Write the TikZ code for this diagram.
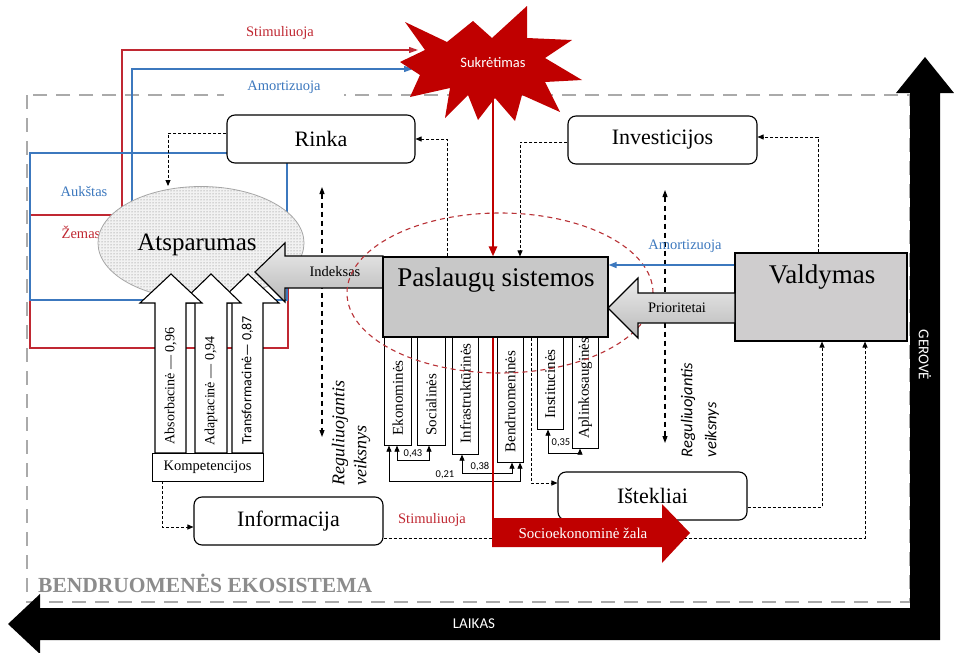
\documentclass[tikz,border=0pt]{standalone}
\usepackage{fontspec}
\setmainfont{Liberation Serif}
\newfontfamily\calib{Carlito}
\usetikzlibrary{arrows.meta,patterns,shapes.geometric}
\definecolor{rline}{RGB}{192,40,50}
\definecolor{bline}{RGB}{60,120,190}
\definecolor{shockred}{RGB}{192,0,0}
\definecolor{dashgray}{RGB}{170,170,170}
\definecolor{boxgray}{RGB}{200,200,200}
\definecolor{valgray}{RGB}{207,205,206}
\definecolor{ecogray}{RGB}{140,140,140}
\definecolor{ellred}{RGB}{185,50,55}
\newcommand\fsz[2]{\fontsize{#1}{#2}\selectfont}
\begin{document}
\begin{tikzpicture}[x=1pt,y=-1pt,
  rbox/.style={draw, line width=1.1pt, rounded corners=8pt, fill=white, inner sep=0pt, font=\fsz{22}{26}},
  gbox/.style={draw, line width=1.1pt, inner sep=0pt},
  vbox/.style={draw, line width=0.6pt, fill=white, inner sep=0pt, anchor=north west},
  vtext/.style={rotate=90, anchor=west, inner sep=0pt, font=\fsz{15}{17}},
  da/.style={dash pattern=on 3pt off 2pt, line width=0.9pt, -{Triangle[length=6pt,width=5pt]}},
  dda/.style={dash pattern=on 5pt off 4pt, line width=1.1pt, {Triangle[length=7pt,width=5pt]}-{Triangle[length=7pt,width=5pt]}},
  numline/.style={line width=0.7pt, {Triangle[length=6pt,width=5pt]}-{Triangle[length=6pt,width=5pt]}},
  numlab/.style={font=\calib\fsz{10.5}{12}, inner sep=0pt},
  lbl/.style={inner sep=0pt, font=\fsz{14.5}{17}},
  redthin/.style={draw=rline, line width=1.2pt},
  bluethin/.style={draw=bline, line width=1.2pt},
  whitearrow/.style={draw, line width=1.1pt, fill=white, line join=miter},
  grayarrow/.style={draw, line width=1.1pt, top color=gray!15, bottom color=gray!55},
  sidetxt/.style={text=white, font=\calib\fsz{15}{17}, inner sep=0pt},
]
\useasboundingbox (0,0) rectangle (954,653);
\fill[white] (0,0) rectangle (954,653);

% ecosystem frame
\draw[dashgray, line width=2pt, dash pattern=on 14pt off 9pt] (27,95) rectangle (910,602);
\node[anchor=base west, text=ecogray, font=\bfseries\fsz{21.5}{24}, inner sep=0pt] (ecosys) at (38,592) {BENDRUOMENĖS EKOSISTEMA};

% shock star coordinates
\coordinate (shockL1) at (418,50);
\coordinate (shockL2) at (413,69);

% red and blue loops
\draw[redthin] (288,288) |- (30,348) |- (122,215);
\draw[redthin, -{Triangle[length=9pt,width=6pt]}] (122,215) |- (shockL1);
\draw[bluethin] (30,153) rectangle (287,300);
\draw[bluethin, -{Triangle[length=9pt,width=6pt]}] (132,230) |- (shockL2);
\node[lbl, text=rline] (stim1) at (280,33) {Stimuliuoja};
\node[lbl, text=bline, fill=white, minimum width=120pt, minimum height=18pt] (amort1) at (284,87) {Amortizuoja};
\node[lbl, text=bline] (auk) at (84,192) {Aukštas};
\node[lbl, text=rline] (zem) at (81,232) {Žemas};

% resilience ellipse
\node[draw=gray!70, line width=0.8pt, ellipse, minimum width=206pt, minimum height=113pt, fill=gray!10, inner sep=0pt] (atsp) at (201,243) {};
\fill[pattern=dots, pattern color=black!55] (201,243) ellipse [x radius=102pt, y radius=56pt];
\node[font=\fsz{25}{28}, inner sep=0pt] (atsptxt) at (197,245) {Atsparumas};

% boxes
\node[rbox, minimum width=188pt, minimum height=48pt] (rinka) at (321,139) {Rinka};
\node[rbox, minimum width=189pt, minimum height=48pt] (invest) at (662.5,140) {Investicijos};
\node[rbox, minimum width=189pt, minimum height=48pt] (info) at (288.5,521) {Informacija};
\node[rbox, minimum width=189pt, minimum height=48pt] (istek) at (652.5,496) {Ištekliai};

% left regulating factor
\coordinate (regAtop) at (322,187);
\coordinate (regAbot) at (322,437);
\draw[dda] (regAtop) -- (regAbot);
\node[rotate=90, align=left, font=\itshape\fsz{18}{22}, inner sep=0pt] (reg1) at (351,433) {Reguliuojantis\\veiksnys};

% competence arrows
\draw[whitearrow] (232,453) -- (232,303) -- (218,303) -- (248,274) -- (279,303) -- (263,303) -- (263,453) -- cycle;
\draw[whitearrow] (195,453) -- (195,303) -- (181,303) -- (211,274) -- (241,303) -- (227,303) -- (227,453) -- cycle;
\draw[whitearrow] (155,453) -- (155,303) -- (140,303) -- (171,274) -- (202,303) -- (186,303) -- (186,453) -- cycle;
\node[rotate=90, inner sep=0pt, font=\fsz{14}{16}] (absorb) at (170.5,386) {Absorbacinė — 0,96};
\node[rotate=90, inner sep=0pt, font=\fsz{14}{16}] (adapt) at (211,391) {Adaptacinė — 0,94};
\node[rotate=90, inner sep=0pt, font=\calib\fsz{14}{16}] (transf) at (247.5,380) {Transformacinė— 0,87};
\node[draw, line width=0.8pt, fill=white, minimum width=111pt, minimum height=28pt, inner sep=0pt, font=\fsz{14.5}{16}] (komp) at (207.5,467) {Kompetencijos};

% index arrow
\draw[grayarrow] (383,256) -- (285,256) -- (285,243) -- (255,272) -- (285,302) -- (285,288) -- (383,288) -- cycle;
\node[lbl] (indeks) at (335,272) {Indeksas};

% service sub-boxes
\node[vbox, minimum width=27pt, minimum height=108pt] (eko) at (384,337) {};
\node[vbox, minimum width=28pt, minimum height=108pt] (soc) at (417,337) {};
\node[vbox, minimum width=26pt, minimum height=117pt] (infra) at (452,337) {};
\node[vbox, minimum width=26pt, minimum height=125pt] (bend) at (497,337) {};
\node[vbox, minimum width=26pt, minimum height=92pt] (inst) at (537,337) {};
\node[vbox, minimum width=26pt, minimum height=111pt] (apl) at (572,337) {};
\node[vtext] (ekot) at ([yshift=10pt]eko.south) {Ekonominės};
\node[vtext] (soct) at ([yshift=10pt]soc.south) {Socialinės};
\node[vtext] (infrat) at ([yshift=11pt]infra.south) {Infrastruktūrinės};
\node[vtext] (bendt) at ([yshift=10pt]bend.south) {Bendruomeninės};
\node[vtext] (instt) at ([yshift=11pt]inst.south) {Institucinės};
\node[vtext] (aplt) at ([yshift=10pt]apl.south) {Aplinkosauginės};

% weights
\draw[numline] (397,0 |- eko.south) |- (429,460) -- (429,0 |- soc.south);
\draw[numline] (389,0 |- eko.south) |- (520,481) -- (520,0 |- bend.south);
\draw[numline] (462,0 |- infra.south) |- (512,473) -- (512,0 |- bend.south);
\draw[numline] (548,0 |- inst.south) |- (580,453) -- (580,0 |- apl.south);
\node[numlab] (w43) at (413,454) {0,43};
\node[numlab] (w21) at (445,475) {0,21};
\node[numlab] (w38) at (480,467) {0,38};
\node[numlab] (w35) at (561,443) {0,35};

% red dashed ellipse
\draw[ellred, line width=1.1pt, dash pattern=on 5pt off 4pt] (500,293) ellipse [x radius=153pt, y radius=80pt];

% service systems
\node[gbox, fill=boxgray, minimum width=225pt, minimum height=80pt] (pasl) at (495.5,297) {};
\node[font=\fsz{27}{30}, inner sep=0pt] (pasltxt) at (496,280) {Paslaugų sistemos};

% right regulating factor
\coordinate (regBtop) at (665,190);
\coordinate (regBbot) at (665,443);
\draw[dda] (regBtop) -- (regBbot);
\node[rotate=90, align=left, font=\calib\itshape\fsz{16.5}{24}, inner sep=0pt] (reg2) at (700,410) {Reguliuojantis\\veiksnys};

% management
\node[gbox, fill=valgray, minimum width=172pt, minimum height=88pt] (valdy) at (821,297) {};
\node[font=\fsz{27}{30}, inner sep=0pt] (valdytxt) at (822,277) {Valdymas};
\draw[grayarrow] (735,293) -- (638,293) -- (638,278) -- (608,308) -- (638,338) -- (638,323) -- (735,323) -- cycle;
\node[lbl] (prior) at (677,308) {Prioritetai};
\draw[bluethin, -{Triangle[length=8pt,width=6pt]}] (valdy.west |- 0,265) -- (pasl.east |- 0,265);
\node[lbl, text=bline] (amort2) at (685,246) {Amortizuoja};

% dashed connectors
\draw[da] (rinka.west |- 0,133) -| (168,186);
\draw[da] (pasl.north -| 447,0) |- (rinka.east);
\draw[da] (invest.west |- 0,142) -| (pasl.north -| 520,0);
\draw[da] (valdy.north -| 818,0) |- (invest.east |- 0,137);
\draw[da] (komp.south -| 162,0) |- (info.west |- 0,527);
\draw[da] (info.east |- 0,538) -| (valdy.south -| 865,0);
\draw[da] (istek.east |- 0,507) -| (valdy.south -| 822,0);
\draw[da] (pasl.south -| 531,0) |- (istek.west |- 0,483);
\node[lbl, text=rline] (stim2) at (432,520) {Stimuliuoja};

% shock
\fill[shockred] (405,22) -- (447,42) -- (473,21) -- (492,38) -- (527,6) -- (527,38) -- (572,40) -- (545,58) -- (582,80) -- (545,82) -- (560,112) -- (522,95) -- (515,121) -- (495,98) -- (478,120) -- (468,95) -- (445,118) -- (450,88) -- (410,97) -- (420,75) -- (400,62) -- (425,50) -- cycle;
\node[text=white, font=\calib\fsz{14.5}{16}, inner sep=0pt] (shock) at (493,63) {Sukrėtimas};
\draw[shockred, line width=2.6pt, -{Triangle[length=10pt,width=8pt]}] (493,98) -- (pasl.north -| 493,0);
\draw[shockred, line width=2.6pt] (pasl.south -| 493,0) -- (493,520);
\fill[shockred] (492,518) -- (662,518) -- (662,504) -- (690,533) -- (662,563) -- (662,547) -- (492,547) -- cycle;
\node[text=white, font=\fsz{15}{17}, inner sep=0pt] (zala) at (583,533) {Socioekonominė žala};

% axes
\fill[black] (8,624) -- (40,594) -- (40,608) -- (910,608) -- (910,93) -- (896,93) -- (925,57) -- (954,93) -- (940,93) -- (940,640) -- (40,640) -- (40,654) -- cycle;
\node[sidetxt] (laikas) at (474,624) {LAIKAS};
\node[sidetxt, rotate=-90] (gerove) at (925,355) {GEROVĖ};
\end{tikzpicture}
\end{document}
